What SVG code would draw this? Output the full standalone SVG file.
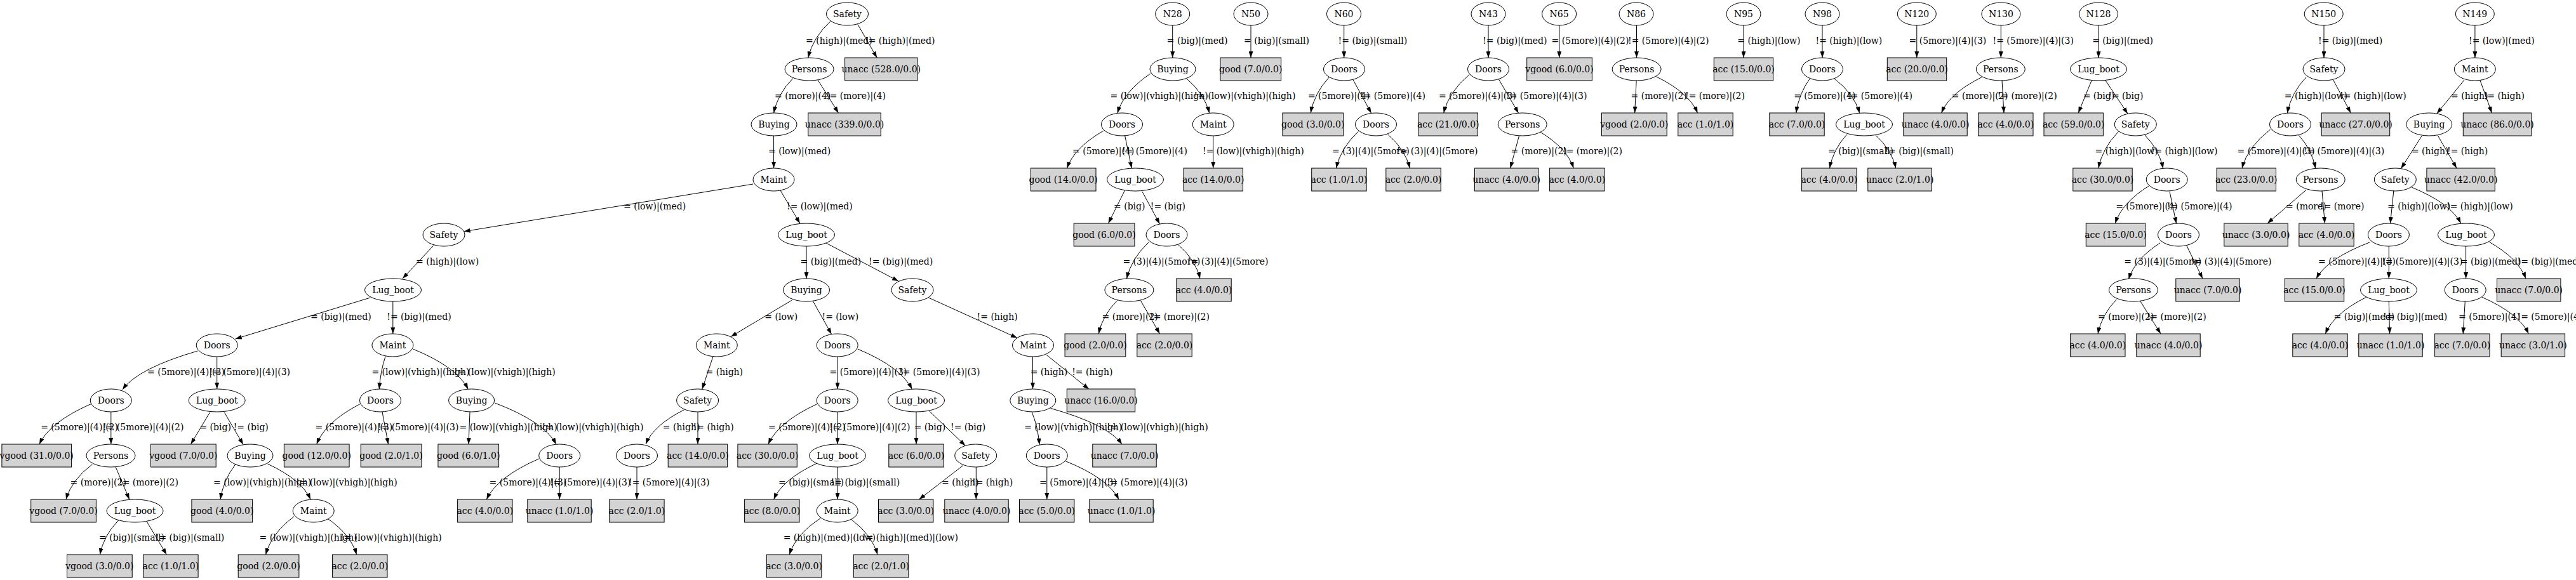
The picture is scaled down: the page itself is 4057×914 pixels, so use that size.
<svg xmlns="http://www.w3.org/2000/svg" width="4057" height="914" viewBox="0 0 4057 914">
<style>
text{font-family:"DejaVu Serif","Liberation Serif",serif;font-size:14px;fill:#000}
.n ellipse{fill:none;stroke:#000;stroke-width:1}
.b rect{fill:#d3d3d3;stroke:#000;stroke-width:1}
.n text,.b text{text-anchor:middle}
#connectors path{fill:none;stroke:#000;stroke-width:1;marker-end:url(#ah)}
#connectors text{text-anchor:start}
</style>
<defs>
<marker id="ah" markerUnits="userSpaceOnUse" markerWidth="10" markerHeight="7" refX="10" refY="3.5" orient="auto"><path d="M0,0 L10,3.5 L0,7 z" fill="#000"/></marker>
</defs>
<rect width="4057" height="914" fill="#fff"/>
<g id="connectors">
<!-- main tree -->
<g><path d="M1308.3,33.3 Q1279.9,59.3 1272.8,91"/><text x="1269" y="69">= (high)|(med)</text></g>
<g><path d="M1350.8,38.3 L1381.2,91"/><text x="1362" y="69">!= (high)|(med)</text></g>
<g><path d="M1248.9,123.3 Q1224.7,147.9 1218.6,178"/><text x="1220" y="156">= (more)|(4)</text></g>
<g><path d="M1288,126 L1320.5,178"/><text x="1301" y="156">!= (more)|(4)</text></g>
<g><path d="M1218.6,214 L1218.6,265"/><text x="1210" y="243">= (low)|(med)</text></g>
<g><path d="M1186,290 L730.6,364.8"/><text x="982" y="330">= (low)|(med)</text></g>
<g><path d="M1229,300 L1259.8,352"/><text x="1239" y="330">!= (low)|(med)</text></g>
<g><path d="M683,386.7 L634,439"/><text x="655" y="417">= (high)|(low)</text></g>
<g><path d="M1270,388 L1270,439"/><text x="1260.6" y="417">= (big)|(med)</text></g>
<g><path d="M1301,383 L1415,443"/><text x="1368" y="417">!= (big)|(med)</text></g>
<g><path d="M583.3,469 L370.8,534"/><text x="489" y="504">= (big)|(med)</text></g>
<g><path d="M618.8,475 L618.8,526"/><text x="609.3" y="504">!= (big)|(med)</text></g>
<g><path d="M1246.8,473.3 L1151,530.5"/><text x="1204.3" y="504">= (low)</text></g>
<g><path d="M1280.6,475 L1309.6,526.7"/><text x="1294.5" y="504">!= (low)</text></g>
<g><path d="M1462.3,469 L1602,532.5"/><text x="1538.6" y="504">!= (high)</text></g>
<g><path d="M311.4,553 Q216.7,580.5 193,614"/><text x="232" y="591">= (5more)|(4)|(3)</text></g>
<g><path d="M341.7,562 L341.7,613"/><text x="329.6" y="591">!= (5more)|(4)|(3)</text></g>
<g><path d="M607,561.7 Q599.2,584.9 597.2,613.3"/><text x="585.4" y="591">= (low)|(vhigh)|(high)</text></g>
<g><path d="M650.5,550 Q719.9,578.5 737.2,613.3"/><text x="715" y="591">!= (low)|(vhigh)|(high)</text></g>
<g><path d="M1123,561.7 L1105.8,613.3"/><text x="1111.5" y="591">= (high)</text></g>
<g><path d="M1319,562 L1319,613"/><text x="1306.6" y="591">= (5more)|(4)|(3)</text></g>
<g><path d="M1350.8,550 Q1419.2,578.5 1436.3,613.3"/><text x="1416" y="591">!= (5more)|(4)|(3)</text></g>
<g><path d="M1626.5,562 L1626.5,613"/><text x="1622.7" y="591">= (high)</text></g>
<g><path d="M1647.9,559 L1715,613.3"/><text x="1688.2" y="591">!= (high)</text></g>
<g><path d="M143,636.7 Q78.2,665.2 62,700"/><text x="64.2" y="678">= (5more)|(4)|(2)</text></g>
<g><path d="M174.8,649 L174.8,700"/><text x="162" y="678">!= (5more)|(4)|(2)</text></g>
<g><path d="M330.4,650 L300.5,700"/><text x="314.4" y="678">= (big)</text></g>
<g><path d="M353.4,650 L383,700.5"/><text x="367.7" y="678">!= (big)</text></g>
<g><path d="M566.8,636.7 Q512.3,665.2 498.7,700"/><text x="496.5" y="678">= (5more)|(4)|(3)</text></g>
<g><path d="M602,649 L611.5,700"/><text x="595" y="678">!= (5more)|(4)|(3)</text></g>
<g><path d="M740,649 L738,700"/><text x="723.5" y="678">= (low)|(vhigh)|(high)</text></g>
<g><path d="M779.3,635 Q856.7,664.3 876,700"/><text x="853.6" y="678">!= (low)|(vhigh)|(high)</text></g>
<g><path d="M1077.6,645.7 Q1029.1,670.1 1017,700"/><text x="1043.8" y="678">= (high)</text></g>
<g><path d="M1099,649 L1099,700"/><text x="1091.6" y="678">!= (high)</text></g>
<g><path d="M1286.7,636.7 Q1225.3,665.2 1210,700"/><text x="1210" y="678">= (5more)|(4)|(2)</text></g>
<g><path d="M1319,649 L1319,700"/><text x="1306" y="678">!= (5more)|(4)|(2)</text></g>
<g><path d="M1443,649 L1443,700"/><text x="1439.7" y="678">= (big)</text></g>
<g><path d="M1463.6,647.7 L1520.4,702.4"/><text x="1497" y="678">!= (big)</text></g>
<g><path d="M1625,649 Q1634.6,672.4 1637,701"/><text x="1613.2" y="678">= (low)|(vhigh)|(high)</text></g>
<g><path d="M1654.4,643.3 Q1744.5,668.9 1767,700"/><text x="1743" y="678">!= (low)|(vhigh)|(high)</text></g>
<g><path d="M145.3,731.7 Q112.3,756.5 104,787"/><text x="110.6" y="765">= (more)|(2)</text></g>
<g><path d="M182,735.7 L203.8,787"/><text x="187" y="765">!= (more)|(2)</text></g>
<g><path d="M370.8,731.7 Q351.8,756.5 347,787"/><text x="336" y="765">= (low)|(vhigh)|(high)</text></g>
<g><path d="M421.5,731 Q475.5,756.1 489,787"/><text x="466" y="765">!= (low)|(vhigh)|(high)</text></g>
<g><path d="M848.7,723 Q782.8,751.7 766.3,787"/><text x="770.6" y="765">= (5more)|(4)|(3)</text></g>
<g><path d="M881.2,736 L881.2,787"/><text x="866" y="765">!= (5more)|(4)|(3)</text></g>
<g><path d="M1003,736 L1003,787"/><text x="990" y="765">!= (5more)|(4)|(3)</text></g>
<g><path d="M1286.7,730 Q1232.2,755.5 1218.6,787"/><text x="1226" y="765">= (big)|(small)</text></g>
<g><path d="M1319,736 L1319,787"/><text x="1308.6" y="765">!= (big)|(small)</text></g>
<g><path d="M1517,733.3 L1447.5,787"/><text x="1483" y="765">= (high)</text></g>
<g><path d="M1537.3,736 L1537.3,787"/><text x="1531" y="765">!= (high)</text></g>
<g><path d="M1648.8,736 L1648.8,787"/><text x="1637" y="765">= (5more)|(4)|(3)</text></g>
<g><path d="M1678.2,726.7 Q1745.2,753.7 1762,787"/><text x="1743" y="765">!= (5more)|(4)|(3)</text></g>
<g><path d="M186.5,820 Q163.2,844 157.4,874"/><text x="156" y="852">= (big)|(small)</text></g>
<g><path d="M231,821.7 L262.4,874"/><text x="244.8" y="852">!= (big)|(small)</text></g>
<g><path d="M463,814 Q427.4,840.7 418.5,874"/><text x="408.5" y="852">= (low)|(vhigh)|(high)</text></g>
<g><path d="M517,818 Q552.7,842.9 561.6,874"/><text x="536" y="852">!= (low)|(vhigh)|(high)</text></g>
<g><path d="M1292.3,816.7 Q1253.1,842.2 1243.3,874"/><text x="1233.7" y="852">= (high)|(med)|(low)</text></g>
<g><path d="M1340,818 Q1373.6,842.9 1382,874"/><text x="1358" y="852">!= (high)|(med)|(low)</text></g>
<!-- N28 -->
<g><path d="M1846.7,40 L1846.7,91"/><text x="1837.8" y="69">= (big)|(med)</text></g>
<g><path d="M1811.8,116 Q1770.2,144 1759.8,178.3"/><text x="1748.5" y="156">= (low)|(vhigh)|(high)</text></g>
<g><path d="M1869,124 Q1897.5,148.4 1904.6,178.3"/><text x="1880.6" y="156">!= (low)|(vhigh)|(high)</text></g>
<g><path d="M1738,206 Q1691.9,232.6 1680.4,265"/><text x="1689" y="243">= (5more)|(4)</text></g>
<g><path d="M1771.5,213.3 L1782.3,265"/><text x="1767" y="243">!= (5more)|(4)</text></g>
<g><path d="M1910.7,214 L1910.7,265"/><text x="1894" y="243">!= (low)|(vhigh)|(high)</text></g>
<g><path d="M1771.5,300 L1745.5,352"/><text x="1754" y="330">= (big)</text></g>
<g><path d="M1798.8,301.7 L1826.5,353"/><text x="1811.8" y="330">!= (big)</text></g>
<g><path d="M1809.2,381.7 Q1781.4,407.6 1774.5,439.3"/><text x="1768.4" y="417">= (3)|(4)|(5more)</text></g>
<g><path d="M1855,385 Q1883,409.4 1890,439"/><text x="1870" y="417">!= (3)|(4)|(5more)</text></g>
<g><path d="M1759.8,473.3 Q1736.2,496.9 1730.3,526"/><text x="1735.5" y="504">= (more)|(2)</text></g>
<g><path d="M1796.2,473.3 L1826.5,526"/><text x="1811" y="504">!= (more)|(2)</text></g>
<!-- N50 -->
<g><path d="M1970,40 L1970,91"/><text x="1959" y="69">= (big)|(small)</text></g>
<!-- N60 -->
<g><path d="M2116.7,40 L2116.7,91"/><text x="2107.6" y="69">!= (big)|(small)</text></g>
<g><path d="M2093.3,121.7 Q2070,146.7 2064.2,178"/><text x="2059.9" y="156">= (5more)|(4)</text></g>
<g><path d="M2130.6,125 L2159.6,178.3"/><text x="2142" y="156">!= (5more)|(4)</text></g>
<g><path d="M2139.2,207.3 Q2111.4,233.3 2104.5,265"/><text x="2098" y="243">= (3)|(4)|(5more)</text></g>
<g><path d="M2185.6,211.7 Q2213.4,235.7 2220.3,265"/><text x="2200" y="243">!= (3)|(4)|(5more)</text></g>
<!-- N43 -->
<g><path d="M2344,40 L2344,91"/><text x="2335.2" y="69">!= (big)|(med)</text></g>
<g><path d="M2314.4,117.3 Q2281.8,144.3 2273.7,178"/><text x="2265.9" y="156">= (5more)|(4)|(3)</text></g>
<g><path d="M2360.4,125 L2391.6,178.3"/><text x="2372" y="156">!= (5more)|(4)|(3)</text></g>
<g><path d="M2392.5,214 L2378.6,265"/><text x="2379.5" y="243">= (more)|(2)</text></g>
<g><path d="M2426.3,208.3 Q2467.9,233.8 2478.3,265"/><text x="2461" y="243">!= (more)|(2)</text></g>
<!-- N65 -->
<g><path d="M2455.8,40 L2455.8,91"/><text x="2443.6" y="69">= (5more)|(4)|(2)</text></g>
<!-- N86 -->
<g><path d="M2577.5,40 L2577.5,91"/><text x="2564" y="69">!= (5more)|(4)|(2)</text></g>
<g><path d="M2577.2,126.7 L2574.6,178"/><text x="2568.5" y="156">= (more)|(2)</text></g>
<g><path d="M2608.4,120.7 Q2660.5,146.2 2673.5,178"/><text x="2654" y="156">!= (more)|(2)</text></g>
<!-- N95 -->
<g><path d="M2746,40 L2746,91"/><text x="2736.3" y="69">= (high)|(low)</text></g>
<!-- N98 -->
<g><path d="M2870,40 L2870,91"/><text x="2859.5" y="69">!= (high)|(low)</text></g>
<g><path d="M2850.7,123.3 Q2833.1,147.6 2828.7,178"/><text x="2825.2" y="156">= (5more)|(4)</text></g>
<g><path d="M2889,124 Q2920.7,148 2928.6,178.3"/><text x="2909" y="156">!= (5more)|(4)</text></g>
<g><path d="M2908.8,211.7 Q2887,235.7 2881.5,265"/><text x="2879" y="243">= (big)|(small)</text></g>
<g><path d="M2953.7,212.7 Q2979.4,236.2 2985.8,265"/><text x="2968.4" y="243">!= (big)|(small)</text></g>
<!-- N120 -->
<g><path d="M3018.8,40 L3018.8,91"/><text x="3006.5" y="69">= (5more)|(4)|(3)</text></g>
<!-- N130 -->
<g><path d="M3151.3,40 L3151.3,91"/><text x="3138.5" y="69">!= (5more)|(4)|(3)</text></g>
<g><path d="M3121,121.7 Q3070.3,146.7 3057.6,178"/><text x="3073.8" y="156">= (more)|(2)</text></g>
<g><path d="M3153,126.7 L3156,178"/><text x="3145.7" y="156">!= (more)|(2)</text></g>
<!-- N128 -->
<g><path d="M3305,40 L3305,91"/><text x="3295.2" y="69">= (big)|(med)</text></g>
<g><path d="M3293.9,127.3 L3273.2,178"/><text x="3280.7" y="156">= (big)</text></g>
<g><path d="M3315.9,126.7 L3351,179.3"/><text x="3320.3" y="156">!= (big)</text></g>
<g><path d="M3336.5,207.3 Q3311.2,233.3 3304.9,265"/><text x="3299.6" y="243">= (high)|(low)</text></g>
<g><path d="M3376.9,211.7 Q3400.7,235.7 3406.7,265.5"/><text x="3387.7" y="243">!= (high)|(low)</text></g>
<g><path d="M3384.4,293 Q3341.9,319.4 3331.3,352"/><text x="3332.2" y="330">= (5more)|(4)</text></g>
<g><path d="M3417,301.7 L3427.6,352.3"/><text x="3412.7" y="330">!= (5more)|(4)</text></g>
<g><path d="M3402.2,382.7 Q3362.4,408.2 3352.4,440"/><text x="3345.3" y="417">= (3)|(4)|(5more)</text></g>
<g><path d="M3443.6,386.7 L3469,439"/><text x="3450" y="417">!= (3)|(4)|(5more)</text></g>
<g><path d="M3333.5,471.7 Q3309.9,496 3304,526"/><text x="3304" y="504">= (more)|(2)</text></g>
<g><path d="M3371,475 L3403,526"/><text x="3380.7" y="504">!= (more)|(2)</text></g>
<!-- N150 -->
<g><path d="M3660,40 L3660,91"/><text x="3651" y="69">!= (big)|(med)</text></g>
<g><path d="M3632,121.7 Q3608.2,146.7 3602.3,178.3"/><text x="3597.8" y="156">= (high)|(low)</text></g>
<g><path d="M3674.7,126 L3702.3,178"/><text x="3685" y="156">!= (high)|(low)</text></g>
<g><path d="M3575.6,204 Q3539.9,231.5 3531,265"/><text x="3523.6" y="243">= (5more)|(4)|(3)</text></g>
<g><path d="M3620,212.7 Q3641.4,236.2 3646.7,265.5"/><text x="3627.7" y="243">!= (5more)|(4)|(3)</text></g>
<g><path d="M3632,299.3 L3571,352"/><text x="3600" y="330">= (more)</text></g>
<g><path d="M3657,300.7 L3661.4,352"/><text x="3654" y="330">!= (more)</text></g>
<!-- N149 -->
<g><path d="M3897.9,40 L3897.9,91"/><text x="3888" y="69">!= (low)|(med)</text></g>
<g><path d="M3881,126 L3837.9,179"/><text x="3860" y="156">= (high)</text></g>
<g><path d="M3906,126.7 L3924.5,178"/><text x="3911.7" y="156">!= (high)</text></g>
<g><path d="M3814.3,214 L3781.4,265.7"/><text x="3797.9" y="243">= (high)</text></g>
<g><path d="M3839.2,213.3 L3869,265"/><text x="3854" y="243">!= (high)</text></g>
<g><path d="M3769.9,300 L3764.5,352"/><text x="3760" y="330">= (high)|(low)</text></g>
<g><path d="M3797.9,295 Q3860.1,320.5 3875.6,352"/><text x="3853" y="330">!= (high)|(low)</text></g>
<g><path d="M3732.5,381.7 Q3664.9,407.6 3648,439"/><text x="3651" y="417">= (5more)|(4)|(3)</text></g>
<g><path d="M3762.3,388 L3762.3,439"/><text x="3751" y="417">!= (5more)|(4)|(3)</text></g>
<g><path d="M3883.6,388 L3883.6,439"/><text x="3874.8" y="417">= (big)|(med)</text></g>
<g><path d="M3921,381.7 Q3966.5,407.6 3977.9,439"/><text x="3964.5" y="417">!= (big)|(med)</text></g>
<g><path d="M3726.7,468.3 Q3675.2,494.1 3662.3,526"/><text x="3675.6" y="504">= (big)|(med)</text></g>
<g><path d="M3762.3,475 L3763.6,526"/><text x="3753" y="504">!= (big)|(med)</text></g>
<g><path d="M3882.3,475 L3879.2,526"/><text x="3872" y="504">= (5more)|(4)</text></g>
<g><path d="M3909,468.3 Q3967.6,494.1 3982.3,526"/><text x="3964.5" y="504">!= (5more)|(4)</text></g>
</g>
<!-- ===== main tree nodes ===== -->
<g id="m_safety0" class="n"><ellipse cx="1334.5" cy="22" rx="33" ry="18"/><text x="1334.5" y="27">Safety</text></g>
<g id="m_persons1" class="n"><ellipse cx="1274.6" cy="109" rx="38.5" ry="18"/><text x="1274.6" y="114">Persons</text></g>
<g id="m_unacc528" class="b"><rect x="1330.6" y="91" width="114.4" height="36"/><text x="1387.8" y="114">unacc (528.0/0.0)</text></g>
<g id="m_buying2" class="n"><ellipse cx="1219" cy="196" rx="36" ry="18"/><text x="1219" y="201">Buying</text></g>
<g id="m_unacc339" class="b"><rect x="1272.8" y="178" width="114.4" height="36"/><text x="1330" y="201">unacc (339.0/0.0)</text></g>
<g id="m_maint3" class="n"><ellipse cx="1218.5" cy="283" rx="32.5" ry="18"/><text x="1218.5" y="288">Maint</text></g>
<g id="m_safety4" class="n"><ellipse cx="699" cy="370" rx="33" ry="18"/><text x="699" y="375">Safety</text></g>
<g id="m_lug4" class="n"><ellipse cx="1270" cy="370" rx="44.5" ry="18"/><text x="1270" y="375">Lug_boot</text></g>
<g id="m_lug5" class="n"><ellipse cx="619" cy="457" rx="44.5" ry="18"/><text x="619" y="462">Lug_boot</text></g>
<g id="m_buying5" class="n"><ellipse cx="1270" cy="457" rx="36.5" ry="18"/><text x="1270" y="462">Buying</text></g>
<g id="m_safety5" class="n"><ellipse cx="1437" cy="457" rx="33" ry="18"/><text x="1437" y="462">Safety</text></g>
<g id="m_doors6a" class="n"><ellipse cx="341.7" cy="544" rx="32.5" ry="18"/><text x="341.7" y="549">Doors</text></g>
<g id="m_maint6a" class="n"><ellipse cx="618.4" cy="544" rx="32.5" ry="18"/><text x="618.4" y="549">Maint</text></g>
<g id="m_maint6b" class="n"><ellipse cx="1128.8" cy="544" rx="32.5" ry="18"/><text x="1128.8" y="549">Maint</text></g>
<g id="m_doors6b" class="n"><ellipse cx="1318.7" cy="544" rx="32.5" ry="18"/><text x="1318.7" y="549">Doors</text></g>
<g id="m_maint6c" class="n"><ellipse cx="1627" cy="544" rx="32.5" ry="18"/><text x="1627" y="549">Maint</text></g>
<g id="m_doors7a" class="n"><ellipse cx="174.8" cy="631" rx="32.5" ry="18"/><text x="174.8" y="636">Doors</text></g>
<g id="m_lug7a" class="n"><ellipse cx="341.7" cy="631" rx="44.5" ry="18"/><text x="341.7" y="636">Lug_boot</text></g>
<g id="m_doors7b" class="n"><ellipse cx="599" cy="631" rx="32.5" ry="18"/><text x="599" y="636">Doors</text></g>
<g id="m_buying7a" class="n"><ellipse cx="742.6" cy="631" rx="36" ry="18"/><text x="742.6" y="636">Buying</text></g>
<g id="m_safety7" class="n"><ellipse cx="1098.6" cy="631" rx="33" ry="18"/><text x="1098.6" y="636">Safety</text></g>
<g id="m_doors7c" class="n"><ellipse cx="1318.7" cy="631" rx="32.5" ry="18"/><text x="1318.7" y="636">Doors</text></g>
<g id="m_lug7b" class="n"><ellipse cx="1443" cy="631" rx="44.5" ry="18"/><text x="1443" y="636">Lug_boot</text></g>
<g id="m_buying7b" class="n"><ellipse cx="1626.8" cy="631" rx="36" ry="18"/><text x="1626.8" y="636">Buying</text></g>
<g id="m_unacc16" class="b"><rect x="1680.3" y="613" width="107.4" height="36"/><text x="1734" y="636">unacc (16.0/0.0)</text></g>
<g id="m_vgood31" class="b"><rect x="2.9" y="700" width="109.7" height="36"/><text x="57.7" y="723">vgood (31.0/0.0)</text></g>
<g id="m_persons8" class="n"><ellipse cx="174.5" cy="718" rx="38.5" ry="18"/><text x="174.5" y="723">Persons</text></g>
<g id="m_vgood7a" class="b"><rect x="237.5" y="700" width="102.7" height="36"/><text x="288.8" y="723">vgood (7.0/0.0)</text></g>
<g id="m_buying8" class="n"><ellipse cx="394" cy="718" rx="36" ry="18"/><text x="394" y="723">Buying</text></g>
<g id="m_good12" class="b"><rect x="447.4" y="700" width="102.7" height="36"/><text x="498.7" y="723">good (12.0/0.0)</text></g>
<g id="m_good2_1" class="b"><rect x="568.2" y="700" width="95.7" height="36"/><text x="616" y="723">good (2.0/1.0)</text></g>
<g id="m_good6_1" class="b"><rect x="689.9" y="700" width="95.7" height="36"/><text x="737.7" y="723">good (6.0/1.0)</text></g>
<g id="m_doors8a" class="n"><ellipse cx="881.2" cy="718" rx="32.5" ry="18"/><text x="881.2" y="723">Doors</text></g>
<g id="m_doors8b" class="n"><ellipse cx="1003" cy="718" rx="32.5" ry="18"/><text x="1003" y="723">Doors</text></g>
<g id="m_acc14" class="b"><rect x="1052.2" y="700" width="93.4" height="36"/><text x="1098.9" y="723">acc (14.0/0.0)</text></g>
<g id="m_acc30" class="b"><rect x="1161.9" y="700" width="93.4" height="36"/><text x="1208.6" y="723">acc (30.0/0.0)</text></g>
<g id="m_lug8" class="n"><ellipse cx="1319" cy="718" rx="44.5" ry="18"/><text x="1319" y="723">Lug_boot</text></g>
<g id="m_acc6" class="b"><rect x="1399.8" y="700" width="86.4" height="36"/><text x="1443" y="723">acc (6.0/0.0)</text></g>
<g id="m_safety8" class="n"><ellipse cx="1536.7" cy="718" rx="33" ry="18"/><text x="1536.7" y="723">Safety</text></g>
<g id="m_doors8c" class="n"><ellipse cx="1648.8" cy="718" rx="32.5" ry="18"/><text x="1648.8" y="723">Doors</text></g>
<g id="m_unacc7" class="b"><rect x="1720.8" y="700" width="100.4" height="36"/><text x="1771" y="723">unacc (7.0/0.0)</text></g>
<g id="m_vgood7b" class="b"><rect x="48.7" y="787" width="102.7" height="36"/><text x="100" y="810">vgood (7.0/0.0)</text></g>
<g id="m_lug9" class="n"><ellipse cx="212.5" cy="805" rx="44.5" ry="18"/><text x="212.5" y="810">Lug_boot</text></g>
<g id="m_good4" class="b"><rect x="301.9" y="787" width="95.7" height="36"/><text x="349.7" y="810">good (4.0/0.0)</text></g>
<g id="m_maint9a" class="n"><ellipse cx="493.7" cy="805" rx="32.5" ry="18"/><text x="493.7" y="810">Maint</text></g>
<g id="m_acc4" class="b"><rect x="720.6" y="787" width="86.4" height="36"/><text x="763.8" y="810">acc (4.0/0.0)</text></g>
<g id="m_unacc1_1a" class="b"><rect x="830.8" y="787" width="100.4" height="36"/><text x="881" y="810">unacc (1.0/1.0)</text></g>
<g id="m_acc2_1a" class="b"><rect x="959.7" y="787" width="86.4" height="36"/><text x="1002.9" y="810">acc (2.0/1.0)</text></g>
<g id="m_acc8" class="b"><rect x="1172.6" y="787" width="86.4" height="36"/><text x="1215.8" y="810">acc (8.0/0.0)</text></g>
<g id="m_maint9b" class="n"><ellipse cx="1318.7" cy="805" rx="32.5" ry="18"/><text x="1318.7" y="810">Maint</text></g>
<g id="m_acc3a" class="b"><rect x="1383.5" y="787" width="86.4" height="36"/><text x="1426.7" y="810">acc (3.0/0.0)</text></g>
<g id="m_unacc4" class="b"><rect x="1487.8" y="787" width="100.4" height="36"/><text x="1538" y="810">unacc (4.0/0.0)</text></g>
<g id="m_acc5" class="b"><rect x="1605.5" y="787" width="86.4" height="36"/><text x="1648.7" y="810">acc (5.0/0.0)</text></g>
<g id="m_unacc1_1b" class="b"><rect x="1715.8" y="787" width="100.4" height="36"/><text x="1766" y="810">unacc (1.0/1.0)</text></g>
<g id="m_vgood3" class="b"><rect x="105.5" y="874" width="102.7" height="36"/><text x="156.8" y="897">vgood (3.0/0.0)</text></g>
<g id="m_acc1_1" class="b"><rect x="225.7" y="874" width="86.4" height="36"/><text x="268.9" y="897">acc (1.0/1.0)</text></g>
<g id="m_good2" class="b"><rect x="375.2" y="874" width="95.7" height="36"/><text x="423" y="897">good (2.0/0.0)</text></g>
<g id="m_acc2" class="b"><rect x="523.6" y="874" width="86.4" height="36"/><text x="566.8" y="897">acc (2.0/0.0)</text></g>
<g id="m_acc3b" class="b"><rect x="1207.4" y="874" width="86.4" height="36"/><text x="1250.6" y="897">acc (3.0/0.0)</text></g>
<g id="m_acc2_1b" class="b"><rect x="1344.4" y="874" width="86.4" height="36"/><text x="1387.6" y="897">acc (2.0/1.0)</text></g>
<!-- ===== N28 ===== -->
<g id="n28" class="n"><ellipse cx="1846.7" cy="22" rx="27" ry="18"/><text x="1846.7" y="27">N28</text></g>
<g id="n28_buying" class="n"><ellipse cx="1847" cy="109" rx="36" ry="18"/><text x="1847" y="114">Buying</text></g>
<g id="n28_doors" class="n"><ellipse cx="1767" cy="196" rx="32.5" ry="18"/><text x="1767" y="201">Doors</text></g>
<g id="n28_maint" class="n"><ellipse cx="1910.7" cy="196" rx="32.5" ry="18"/><text x="1910.7" y="201">Maint</text></g>
<g id="n28_good14" class="b"><rect x="1623.3" y="265" width="102.7" height="36"/><text x="1674.6" y="288">good (14.0/0.0)</text></g>
<g id="n28_lug" class="n"><ellipse cx="1788" cy="283" rx="44.5" ry="18"/><text x="1788" y="288">Lug_boot</text></g>
<g id="n28_acc14" class="b"><rect x="1864" y="265" width="93.4" height="36"/><text x="1910.7" y="288">acc (14.0/0.0)</text></g>
<g id="n28_good6" class="b"><rect x="1691.2" y="352" width="95.7" height="36"/><text x="1739" y="375">good (6.0/0.0)</text></g>
<g id="n28_doors4" class="n"><ellipse cx="1837.5" cy="370" rx="32.5" ry="18"/><text x="1837.5" y="375">Doors</text></g>
<g id="n28_persons" class="n"><ellipse cx="1778.4" cy="457" rx="38.5" ry="18"/><text x="1778.4" y="462">Persons</text></g>
<g id="n28_acc4" class="b"><rect x="1852.8" y="439" width="86.4" height="36"/><text x="1896" y="462">acc (4.0/0.0)</text></g>
<g id="n28_good2" class="b"><rect x="1677.1" y="526" width="95.7" height="36"/><text x="1724.9" y="549">good (2.0/0.0)</text></g>
<g id="n28_acc2" class="b"><rect x="1790.8" y="526" width="86.4" height="36"/><text x="1834" y="549">acc (2.0/0.0)</text></g>
<!-- N50 -->
<g id="n50" class="n"><ellipse cx="1970" cy="22" rx="27" ry="18"/><text x="1970" y="27">N50</text></g>
<g id="n50_good7" class="b"><rect x="1921.9" y="91" width="95.7" height="36"/><text x="1969.7" y="114">good (7.0/0.0)</text></g>
<!-- N60 -->
<g id="n60" class="n"><ellipse cx="2116.5" cy="22" rx="27" ry="18"/><text x="2116.5" y="27">N60</text></g>
<g id="n60_doors1" class="n"><ellipse cx="2117" cy="109" rx="32.5" ry="18"/><text x="2117" y="114">Doors</text></g>
<g id="n60_good3" class="b"><rect x="2019.9" y="178" width="95.7" height="36"/><text x="2067.7" y="201">good (3.0/0.0)</text></g>
<g id="n60_doors2" class="n"><ellipse cx="2167" cy="196" rx="32.5" ry="18"/><text x="2167" y="201">Doors</text></g>
<g id="n60_acc1_1" class="b"><rect x="2065.7" y="265" width="86.4" height="36"/><text x="2108.9" y="288">acc (1.0/1.0)</text></g>
<g id="n60_acc2" class="b"><rect x="2182.8" y="265" width="86.4" height="36"/><text x="2226" y="288">acc (2.0/0.0)</text></g>
<!-- N43 -->
<g id="n43" class="n"><ellipse cx="2344" cy="22" rx="27" ry="18"/><text x="2344" y="27">N43</text></g>
<g id="n43_doors" class="n"><ellipse cx="2344" cy="109" rx="32.5" ry="18"/><text x="2344" y="114">Doors</text></g>
<g id="n43_acc21" class="b"><rect x="2234.1" y="178" width="93.4" height="36"/><text x="2280.8" y="201">acc (21.0/0.0)</text></g>
<g id="n43_persons" class="n"><ellipse cx="2397.7" cy="196" rx="38.5" ry="18"/><text x="2397.7" y="201">Persons</text></g>
<g id="n43_unacc4" class="b"><rect x="2322.5" y="265" width="100.4" height="36"/><text x="2372.7" y="288">unacc (4.0/0.0)</text></g>
<g id="n43_acc4" class="b"><rect x="2440.6" y="265" width="86.4" height="36"/><text x="2483.8" y="288">acc (4.0/0.0)</text></g>
<!-- N65 -->
<g id="n65" class="n"><ellipse cx="2455.6" cy="22" rx="27" ry="18"/><text x="2455.6" y="27">N65</text></g>
<g id="n65_vgood6" class="b"><rect x="2404.7" y="91" width="102.7" height="36"/><text x="2456" y="114">vgood (6.0/0.0)</text></g>
<!-- N86 -->
<g id="n86" class="n"><ellipse cx="2577" cy="22" rx="27" ry="18"/><text x="2577" y="27">N86</text></g>
<g id="n86_persons" class="n"><ellipse cx="2577.6" cy="109" rx="38.5" ry="18"/><text x="2577.6" y="114">Persons</text></g>
<g id="n86_vgood2" class="b"><rect x="2522.5" y="178" width="102.7" height="36"/><text x="2573.8" y="201">vgood (2.0/0.0)</text></g>
<g id="n86_acc1_1" class="b"><rect x="2642.8" y="178" width="86.4" height="36"/><text x="2686" y="201">acc (1.0/1.0)</text></g>
<!-- N95 -->
<g id="n95" class="n"><ellipse cx="2746" cy="22" rx="27" ry="18"/><text x="2746" y="27">N95</text></g>
<g id="n95_acc15" class="b"><rect x="2699.3" y="91" width="93.4" height="36"/><text x="2746" y="114">acc (15.0/0.0)</text></g>
<!-- N98 -->
<g id="n98" class="n"><ellipse cx="2870" cy="22" rx="27" ry="18"/><text x="2870" y="27">N98</text></g>
<g id="n98_doors" class="n"><ellipse cx="2870" cy="109" rx="32.5" ry="18"/><text x="2870" y="114">Doors</text></g>
<g id="n98_acc7" class="b"><rect x="2786.8" y="178" width="86.4" height="36"/><text x="2830" y="201">acc (7.0/0.0)</text></g>
<g id="n98_lug" class="n"><ellipse cx="2936" cy="196" rx="44.5" ry="18"/><text x="2936" y="201">Lug_boot</text></g>
<g id="n98_acc4" class="b"><rect x="2837.6" y="265" width="86.4" height="36"/><text x="2880.8" y="288">acc (4.0/0.0)</text></g>
<g id="n98_unacc2_1" class="b"><rect x="2941.8" y="265" width="100.4" height="36"/><text x="2992" y="288">unacc (2.0/1.0)</text></g>
<!-- N120 -->
<g id="n120" class="n"><ellipse cx="3018.8" cy="22" rx="30.5" ry="18"/><text x="3018.8" y="27">N120</text></g>
<g id="n120_acc20" class="b"><rect x="2972.3" y="91" width="93.4" height="36"/><text x="3019" y="114">acc (20.0/0.0)</text></g>
<!-- N130 -->
<g id="n130" class="n"><ellipse cx="3151.4" cy="22" rx="30.5" ry="18"/><text x="3151.4" y="27">N130</text></g>
<g id="n130_persons" class="n"><ellipse cx="3150.8" cy="109" rx="38.5" ry="18"/><text x="3150.8" y="114">Persons</text></g>
<g id="n130_unacc4" class="b"><rect x="2997.8" y="178" width="100.4" height="36"/><text x="3048" y="201">unacc (4.0/0.0)</text></g>
<g id="n130_acc4" class="b"><rect x="3115.6" y="178" width="86.4" height="36"/><text x="3158.8" y="201">acc (4.0/0.0)</text></g>
<!-- N128 -->
<g id="n128" class="n"><ellipse cx="3305" cy="22" rx="30.5" ry="18"/><text x="3305" y="27">N128</text></g>
<g id="n128_lug" class="n"><ellipse cx="3305" cy="109" rx="44.5" ry="18"/><text x="3305" y="114">Lug_boot</text></g>
<g id="n128_acc59" class="b"><rect x="3219" y="178" width="93.4" height="36"/><text x="3265.7" y="201">acc (59.0/0.0)</text></g>
<g id="n128_safety" class="n"><ellipse cx="3363.3" cy="196" rx="33" ry="18"/><text x="3363.3" y="201">Safety</text></g>
<g id="n128_acc30" class="b"><rect x="3264.8" y="265" width="93.4" height="36"/><text x="3311.5" y="288">acc (30.0/0.0)</text></g>
<g id="n128_doors3" class="n"><ellipse cx="3412.7" cy="283" rx="32.5" ry="18"/><text x="3412.7" y="288">Doors</text></g>
<g id="n128_acc15" class="b"><rect x="3285.3" y="352" width="93.4" height="36"/><text x="3332" y="375">acc (15.0/0.0)</text></g>
<g id="n128_doors4" class="n"><ellipse cx="3431" cy="370" rx="32.5" ry="18"/><text x="3431" y="375">Doors</text></g>
<g id="n128_persons" class="n"><ellipse cx="3360" cy="457" rx="38.5" ry="18"/><text x="3360" y="462">Persons</text></g>
<g id="n128_unacc7" class="b"><rect x="3426.8" y="439" width="100.4" height="36"/><text x="3477" y="462">unacc (7.0/0.0)</text></g>
<g id="n128_acc4" class="b"><rect x="3260.6" y="526" width="86.4" height="36"/><text x="3303.8" y="549">acc (4.0/0.0)</text></g>
<g id="n128_unacc4" class="b"><rect x="3364.8" y="526" width="100.4" height="36"/><text x="3415" y="549">unacc (4.0/0.0)</text></g>
<!-- N150 -->
<g id="n150" class="n"><ellipse cx="3659.7" cy="22" rx="30.5" ry="18"/><text x="3659.7" y="27">N150</text></g>
<g id="n150_safety" class="n"><ellipse cx="3660" cy="109" rx="33" ry="18"/><text x="3660" y="114">Safety</text></g>
<g id="n150_doors" class="n"><ellipse cx="3607" cy="196" rx="32.5" ry="18"/><text x="3607" y="201">Doors</text></g>
<g id="n150_unacc27" class="b"><rect x="3656.3" y="178" width="107.4" height="36"/><text x="3710" y="201">unacc (27.0/0.0)</text></g>
<g id="n150_acc23" class="b"><rect x="3491.1" y="265" width="93.4" height="36"/><text x="3537.8" y="288">acc (23.0/0.0)</text></g>
<g id="n150_persons" class="n"><ellipse cx="3654.7" cy="283" rx="38.5" ry="18"/><text x="3654.7" y="288">Persons</text></g>
<g id="n150_unacc3" class="b"><rect x="3502.8" y="352" width="100.4" height="36"/><text x="3553" y="375">unacc (3.0/0.0)</text></g>
<g id="n150_acc4" class="b"><rect x="3620.8" y="352" width="86.4" height="36"/><text x="3664" y="375">acc (4.0/0.0)</text></g>
<!-- N149 -->
<g id="n149" class="n"><ellipse cx="3897.8" cy="22" rx="30.5" ry="18"/><text x="3897.8" y="27">N149</text></g>
<g id="n149_maint" class="n"><ellipse cx="3897.8" cy="109" rx="32.5" ry="18"/><text x="3897.8" y="114">Maint</text></g>
<g id="n149_buying" class="n"><ellipse cx="3825.7" cy="196" rx="36" ry="18"/><text x="3825.7" y="201">Buying</text></g>
<g id="n149_unacc86" class="b"><rect x="3879.3" y="178" width="107.4" height="36"/><text x="3933" y="201">unacc (86.0/0.0)</text></g>
<g id="n149_safety" class="n"><ellipse cx="3772.3" cy="283" rx="33" ry="18"/><text x="3772.3" y="288">Safety</text></g>
<g id="n149_unacc42" class="b"><rect x="3821.9" y="265" width="107.4" height="36"/><text x="3875.6" y="288">unacc (42.0/0.0)</text></g>
<g id="n149_doors4" class="n"><ellipse cx="3761.9" cy="370" rx="32.5" ry="18"/><text x="3761.9" y="375">Doors</text></g>
<g id="n149_lug4" class="n"><ellipse cx="3884" cy="370" rx="44.5" ry="18"/><text x="3884" y="375">Lug_boot</text></g>
<g id="n149_acc15" class="b"><rect x="3598.3" y="439" width="93.4" height="36"/><text x="3645" y="462">acc (15.0/0.0)</text></g>
<g id="n149_lug5" class="n"><ellipse cx="3762" cy="457" rx="44.5" ry="18"/><text x="3762" y="462">Lug_boot</text></g>
<g id="n149_doors5" class="n"><ellipse cx="3882.7" cy="457" rx="32.5" ry="18"/><text x="3882.7" y="462">Doors</text></g>
<g id="n149_unacc7" class="b"><rect x="3932.5" y="439" width="100.4" height="36"/><text x="3982.7" y="462">unacc (7.0/0.0)</text></g>
<g id="n149_acc4" class="b"><rect x="3610.8" y="526" width="86.4" height="36"/><text x="3654" y="549">acc (4.0/0.0)</text></g>
<g id="n149_unacc1_1" class="b"><rect x="3714.8" y="526" width="100.4" height="36"/><text x="3765" y="549">unacc (1.0/1.0)</text></g>
<g id="n149_acc7" class="b"><rect x="3834.6" y="526" width="86.4" height="36"/><text x="3877.8" y="549">acc (7.0/0.0)</text></g>
<g id="n149_unacc3_1" class="b"><rect x="3939.2" y="526" width="100.4" height="36"/><text x="3989.4" y="549">unacc (3.0/1.0)</text></g>
</svg>
